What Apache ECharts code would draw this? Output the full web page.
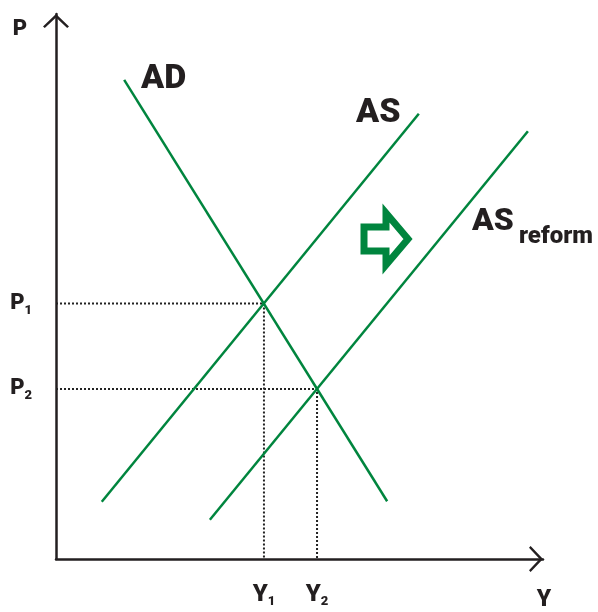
<!DOCTYPE html>
<html lang="en">
<head>
	<meta charset="utf-8" />
	<title>AD / AS reform</title>
	<style>
		html, body { margin: 0; padding: 0; background: #fff; }
	</style>
</head>
<body>
	<div id="chart" style="width:598px;height:612px;"></div>
	<script src="https://cdn.jsdelivr.net/npm/echarts@6/dist/echarts.min.js"></script>
	<script>
		// line end points, in axis units (0..100 on both axes)
		var adLine = [[14.0, 87.9], [68.0, 10.6]];
		var asLine = [[9.4, 10.5], [74.5, 81.7]];
		var asReformLine = [[31.6, 7.2], [96.9, 78.5]];

		// equilibrium levels
		var pTicks = [46.9, 31.2];
		var yTicks = [42.7, 53.6];
		var tickSubs = ['1', '2'];

		var green = '#00853e';
		var ink = '#231f20';
		var font = 'Roboto';

		// open chevron for the ends of the axes
		var chevron = 'path://M0,12.4 L13,0 L26,12.4 L24.2,14 L13,3.4 L1.8,14 Z';

		function subLabel(letter, ticks) {
			return function (v) {
				var i = ticks.indexOf(v);
				return '{m|' + letter + '}{s|' + tickSubs[i] + '}';
			};
		}

		var rich = {
			m: { fontFamily: font, fontWeight: 900, fontSize: 22, color: ink },
			s: { fontFamily: font, fontWeight: 900, fontSize: 13, color: ink, padding: [14, 0, 0, 0] }
		};

		var axisLine = {
			show: true,
			symbol: ['none', chevron],
			symbolSize: [26, 14],
			symbolOffset: [0, -7],
			lineStyle: { color: ink, width: 2.5 }
		};

		var dotted = { color: '#222', width: 2, type: [2, 2] };

		var chart = echarts.init(document.getElementById('chart'), null, { renderer: 'canvas' });

		var option = {
			animation: false,
			backgroundColor: '#fff',
			grid: { left: 56, right: 55, top: 14, bottom: 53 },
			xAxis: {
				type: 'value', min: 0, max: 100,
				axisLine: axisLine,
				axisTick: { show: false },
				splitLine: { show: false },
				axisLabel: {
					customValues: yTicks,
					margin: 22,
					formatter: subLabel('Y', yTicks),
					rich: { m: Object.assign({}, rich.m, { fontSize: 24 }), s: rich.s }
				}
			},
			yAxis: {
				type: 'value', min: 0, max: 100,
				axisLine: axisLine,
				axisTick: { show: false },
				splitLine: { show: false },
				axisLabel: {
					customValues: pTicks,
					margin: 24,
					formatter: subLabel('P', pTicks),
					rich: rich
				}
			},
			series: [
				{
					type: 'line', data: [[0, pTicks[0]], [yTicks[0], pTicks[0]], [yTicks[0], 0]],
					symbol: 'none', lineStyle: dotted, z: 1
				},
				{
					type: 'line', data: [[0, pTicks[1]], [yTicks[1], pTicks[1]], [yTicks[1], 0]],
					symbol: 'none', lineStyle: dotted, z: 1
				},
				{ name: 'AD', type: 'line', data: adLine, symbol: 'none', lineStyle: { color: green, width: 2.5 }, z: 3 },
				{ name: 'AS', type: 'line', data: asLine, symbol: 'none', lineStyle: { color: green, width: 2.5 }, z: 3 },
				{ name: 'AS reform', type: 'line', data: asReformLine, symbol: 'none', lineStyle: { color: green, width: 2.5 }, z: 3 }
			],
			graphic: [
				{ type: 'text', x: 20, y: 29, style: { text: 'P', font: '900 22px Roboto', fill: ink, align: 'center', verticalAlign: 'middle' } },
				{ type: 'text', x: 544, y: 600, style: { text: 'Y', font: '900 23px Roboto', fill: ink, align: 'center', verticalAlign: 'middle' } },
				{ type: 'text', x: 141, y: 79, style: { text: 'AD', font: '900 34px Roboto', fill: ink, align: 'left', verticalAlign: 'middle' } },
				{ type: 'text', x: 356, y: 113, style: { text: 'AS', font: '900 34px Roboto', fill: ink, align: 'left', verticalAlign: 'middle' } },
				{ type: 'text', x: 472, y: 222, style: { text: 'AS', font: '900 32px Roboto', fill: ink, align: 'left', verticalAlign: 'middle' } },
				{ type: 'text', x: 519, y: 237, style: { text: 'reform', font: '900 24px Roboto', fill: ink, align: 'left', verticalAlign: 'middle' } },
				{
					type: 'polygon',
					shape: { points: [[364, 227], [386, 227], [386, 213], [408, 239], [386, 265], [386, 251], [364, 251]] },
					style: { fill: 'none', stroke: green, lineWidth: 7, lineJoin: 'miter' }
				}
			]
		};
		chart.setOption(option);
	</script>
</body>
</html>
